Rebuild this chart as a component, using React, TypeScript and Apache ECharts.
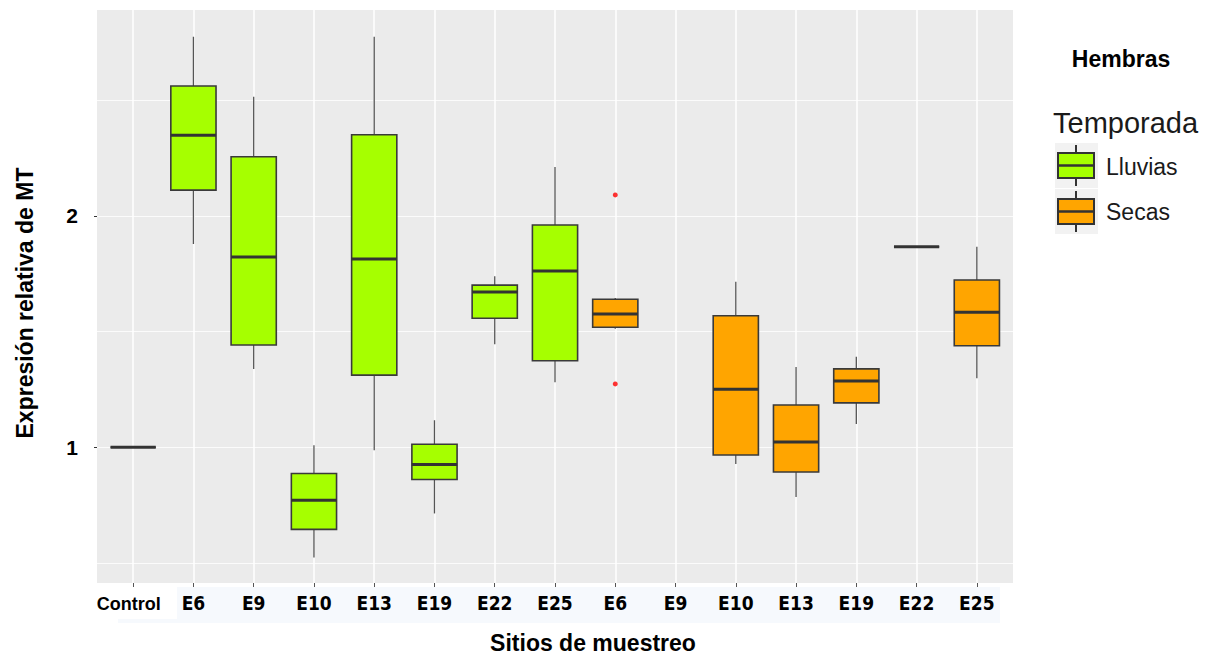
import React, { useEffect, useRef } from 'react';
import * as echarts from 'echarts';

// ---- data ----
const lluviasSites = ['Control', 'E6', 'E9', 'E10', 'E13', 'E19', 'E22', 'E25'];
const secasSites = ['E6', 'E9', 'E10', 'E13', 'E19', 'E22', 'E25'];
const categories = [...lluviasSites, ...secasSites];
const yTickValues = [1, 2];

// [lower whisker, Q1, median, Q3, upper whisker]
const lluviasStats: number[][] = [
  [1.0, 1.0, 1.0, 1.0, 1.0], // Control
  [1.879, 2.112, 2.349, 2.562, 2.775], // E6
  [1.338, 1.442, 1.823, 2.256, 2.516], // E9
  [0.524, 0.645, 0.771, 0.887, 1.009], // E10
  [0.987, 1.312, 1.814, 2.351, 2.775], // E13
  [0.714, 0.861, 0.926, 1.013, 1.117], // E19
  [1.446, 1.558, 1.671, 1.701, 1.740], // E22
  [1.281, 1.374, 1.762, 1.961, 2.212], // E25
];
const secasStats: (number[] | null)[] = [
  [1.513, 1.519, 1.576, 1.640, 1.645], // E6
  null, // E9 (no data)
  [0.928, 0.967, 1.251, 1.569, 1.716], // E10
  [0.785, 0.893, 1.023, 1.183, 1.347], // E13
  [1.101, 1.192, 1.287, 1.339, 1.391], // E19
  [1.867, 1.867, 1.867, 1.867, 1.867], // E22
  [1.298, 1.439, 1.584, 1.723, 1.867], // E25
];
const secasOutlierSite = 'E6';
const secasOutlierValues = [2.091, 1.274];

const LLUVIAS = '#A6FF00';
const SECAS = '#FFA500';
const Y_MIN = 0.4133;
const Y_MAX = 2.8906;
const SANS = "'Liberation Sans', Arial, sans-serif";
const NARROW = "'Liberation Sans Narrow', 'DejaVu Sans Condensed', sans-serif";

export default function App() {
  const ref = useRef<HTMLDivElement>(null);
  useEffect(() => {
    if (!ref.current) return;
    const chart = echarts.init(ref.current, undefined, { renderer: 'svg' });

    const boxData: number[][] = [];
    lluviasStats.forEach((s, i) => boxData.push([i, ...s, 0]));
    secasStats.forEach((s, i) => {
      if (s) boxData.push([lluviasSites.length + i, ...s, 1]);
    });
    const outX = lluviasSites.length + secasSites.indexOf(secasOutlierSite);
    const outlierData = secasOutlierValues.map((v) => [outX, v]);

    const legendKey = (y: number, color: string) => [
      { type: 'rect', shape: { x: 1055, y, width: 43, height: 45 }, style: { fill: '#F2F2F2' } },
      { type: 'line', shape: { x1: 1076, y1: y + 2, x2: 1076, y2: y + 43 }, style: { stroke: '#333', lineWidth: 2 } },
      { type: 'rect', shape: { x: 1058, y: y + 10, width: 36, height: 25 }, style: { fill: color, stroke: '#333', lineWidth: 2 } },
      { type: 'line', shape: { x1: 1058, y1: y + 22.5, x2: 1094, y2: y + 22.5 }, style: { stroke: '#333', lineWidth: 2.5 } },
    ];

    const option: any = {
      animation: false,
      backgroundColor: '#FFFFFF',
      grid: [
        { left: 97, top: 10, width: 916, height: 573, show: true, backgroundColor: '#EBEBEB', borderWidth: 0 },
        { left: 103.03, top: 10, width: 903.95, height: 573 },
        { left: 133.16, top: 10, width: 843.68, height: 573 },
      ],
      xAxis: [
        { gridIndex: 0, type: 'value', min: 0, max: 1, show: false },
        {
          gridIndex: 1,
          type: 'category',
          data: categories,
          boundaryGap: true,
          axisLine: { show: false },
          axisTick: { show: true, alignWithLabel: true, length: 4, lineStyle: { color: '#555', width: 1 } },
          splitLine: { show: false },
          axisLabel: {
            interval: 0,
            margin: 10,
            formatter: (v: string, i: number) => (i === 0 ? `{c|${v}}` : `{e|${v}}`),
            rich: {
              c: { fontFamily: SANS, fontWeight: 'bold', fontSize: 18, color: '#000', padding: [2, 9, 0, 0] },
              e: { fontFamily: NARROW, fontWeight: 'bold', fontSize: 19, color: '#000' },
            },
          },
        },
        {
          gridIndex: 2,
          type: 'category',
          data: categories,
          boundaryGap: false,
          axisLine: { show: false },
          axisTick: { show: false },
          axisLabel: { show: false },
          splitLine: { show: true, lineStyle: { color: '#FFFFFF', width: 1.5 } },
        },
      ],
      yAxis: [
        {
          gridIndex: 0,
          type: 'value',
          min: Y_MIN,
          max: Y_MAX,
          minInterval: 1,
          maxInterval: 1,
          axisLine: { show: false },
          axisTick: { show: true, customValues: yTickValues, length: 3, lineStyle: { color: '#333' } },
          axisLabel: {
            customValues: yTickValues,
            margin: 19,
            fontFamily: SANS,
            fontWeight: 'bold',
            fontSize: 21,
            color: '#000',
            formatter: (v: number) => (yTickValues.includes(v) ? String(v) : ''),
          },
          splitLine: { show: true, showMinLine: false, showMaxLine: false, lineStyle: { color: '#FFFFFF', width: 1.5 } },
        },
        {
          gridIndex: 0,
          type: 'value',
          min: Y_MIN,
          max: Y_MAX,
          minInterval: 0.5,
          maxInterval: 0.5,
          axisLine: { show: false },
          axisTick: { show: false },
          axisLabel: { show: false },
          splitLine: { show: true, showMinLine: false, showMaxLine: false, lineStyle: { color: '#FFFFFF', width: 0.8 } },
        },
        { gridIndex: 1, type: 'value', min: Y_MIN, max: Y_MAX, show: false },
        { gridIndex: 2, type: 'value', min: Y_MIN, max: Y_MAX, show: false },
      ],
      series: [
        {
          type: 'custom',
          xAxisIndex: 1,
          yAxisIndex: 2,
          z: 3,
          dimensions: ['x', 'low', 'q1', 'med', 'q3', 'high', 'season'],
          encode: { x: 0, y: [1, 2, 3, 4, 5] },
          data: boxData,
          renderItem: (params: any, api: any) => {
            const xi = api.value(0);
            const low = api.coord([xi, api.value(1)]);
            const q1 = api.coord([xi, api.value(2)]);
            const med = api.coord([xi, api.value(3)]);
            const q3 = api.coord([xi, api.value(4)]);
            const high = api.coord([xi, api.value(5)]);
            const bw = api.size([1, 0])[0] * 0.75;
            const cx = med[0];
            const fill = api.value(6) === 0 ? LLUVIAS : SECAS;
            return {
              type: 'group',
              children: [
                { type: 'line', shape: { x1: cx, y1: high[1], x2: cx, y2: q3[1] }, style: { stroke: '#555', lineWidth: 1.3 } },
                { type: 'line', shape: { x1: cx, y1: q1[1], x2: cx, y2: low[1] }, style: { stroke: '#555', lineWidth: 1.3 } },
                {
                  type: 'rect',
                  shape: { x: cx - bw / 2, y: q3[1], width: bw, height: q1[1] - q3[1] },
                  style: { fill, stroke: '#3A3A3A', lineWidth: 1.6 },
                },
                { type: 'line', shape: { x1: cx - bw / 2, y1: med[1], x2: cx + bw / 2, y2: med[1] }, style: { stroke: '#333', lineWidth: 3 } },
              ],
            };
          },
        },
        {
          type: 'scatter',
          xAxisIndex: 1,
          yAxisIndex: 2,
          z: 4,
          symbol: 'circle',
          symbolSize: 5,
          itemStyle: { color: '#FF0000' },
          data: outlierData,
        },
      ],
      graphic: [
        { type: 'rect', z: -10, shape: { x: 177, y: 587, width: 823, height: 32 }, style: { fill: '#F6F9FD' } },
        { type: 'rect', z: -10, shape: { x: 118, y: 619, width: 882, height: 4 }, style: { fill: '#F6F9FD' } },
        {
          type: 'text',
          x: 593,
          y: 643,
          style: { text: 'Sitios de muestreo', fontFamily: SANS, fontWeight: 'bold', fontSize: 23, fill: '#000', align: 'center', verticalAlign: 'middle' },
        },
        {
          type: 'text',
          x: 25,
          y: 303,
          rotation: Math.PI / 2,
          style: { text: 'Expresión relativa de MT', fontFamily: SANS, fontWeight: 'bold', fontSize: 23, fill: '#000', align: 'center', verticalAlign: 'middle' },
        },
        {
          type: 'text',
          x: 1121,
          y: 59,
          style: { text: 'Hembras', fontFamily: SANS, fontWeight: 'bold', fontSize: 23, fill: '#000', align: 'center', verticalAlign: 'middle' },
        },
        {
          type: 'text',
          x: 1053,
          y: 123,
          style: { text: 'Temporada', fontFamily: SANS, fontSize: 29, fill: '#1A1A1A', align: 'left', verticalAlign: 'middle' },
        },
        ...legendKey(143, LLUVIAS),
        ...legendKey(189, SECAS),
        {
          type: 'text',
          x: 1106,
          y: 167,
          style: { text: 'Lluvias', fontFamily: SANS, fontSize: 23, fill: '#1A1A1A', align: 'left', verticalAlign: 'middle' },
        },
        {
          type: 'text',
          x: 1106,
          y: 212,
          style: { text: 'Secas', fontFamily: SANS, fontSize: 23, fill: '#1A1A1A', align: 'left', verticalAlign: 'middle' },
        },
      ],
    };
    chart.setOption(option);
    return () => chart.dispose();
  }, []);
  return <div ref={ref} style={{ position: 'fixed', left: 0, top: 0, width: 1207, height: 656 }} />;
}
